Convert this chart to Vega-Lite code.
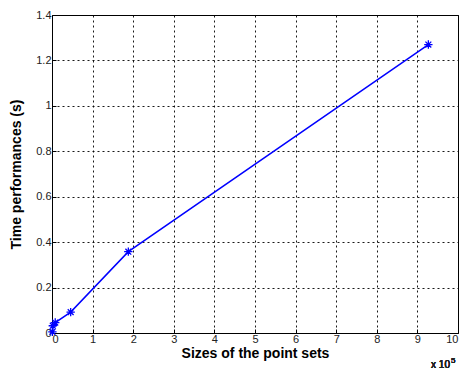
{
  "$schema": "https://vega.github.io/schema/vega-lite/v6.json",
  "width": 406,
  "height": 318,
  "autosize": {"type": "none"},
  "padding": {"left": 52, "top": 15, "right": 2, "bottom": 43},
  "background": "white",
  "config": {
    "view": {"stroke": "#000", "strokeWidth": 1},
    "axis": {
      "labelFont": "Liberation Sans",
      "labelFontSize": 11,
      "labelColor": "#222",
      "titleFont": "Liberation Sans",
      "titleFontSize": 14,
      "titleFontWeight": "bold",
      "titleColor": "#000",
      "domain": false,
      "tickColor": "#000",
      "tickSize": -4,
      "gridColor": "#000",
      "gridDash": [2, 3],
      "gridOpacity": 0.9
    }
  },
  "data": {
    "values": [
      {"size": 0.01, "time": 0.005},
      {"size": 0.02, "time": 0.032},
      {"size": 0.08, "time": 0.046},
      {"size": 0.46, "time": 0.092},
      {"size": 1.88, "time": 0.358},
      {"size": 9.27, "time": 1.27}
    ]
  },
  "layer": [
    {
      "mark": {"type": "line", "color": "#0000ff", "strokeWidth": 1.5},
      "encoding": {
        "x": {
          "field": "size", "type": "quantitative",
          "scale": {"domain": [0, 10], "nice": false},
          "axis": {"values": [0,1,2,3,4,5,6,7,8,9,10], "format": "d", "title": "Sizes of the point sets", "titlePadding": 2, "labelPadding": 4}
        },
        "y": {
          "field": "time", "type": "quantitative",
          "scale": {"domain": [0, 1.4], "nice": false},
          "axis": {"values": [0,0.2,0.4,0.6,0.8,1,1.2,1.4], "format": "~g", "title": "Time performances (s)", "titlePadding": 12, "labelPadding": 5}
        }
      }
    },
    {
      "mark": {"type": "point", "shape": "M-1,0L1,0M0,-1L0,1M-0.7,-0.7L0.7,0.7M-0.7,0.7L0.7,-0.7", "filled": false, "color": "#0000ff", "strokeWidth": 1.3, "size": 70, "opacity": 1},
      "encoding": {
        "x": {"field": "size", "type": "quantitative"},
        "y": {"field": "time", "type": "quantitative"}
      }
    },
    {
      "mark": {"type": "text", "text": "x 10", "font": "Liberation Sans", "fontSize": 10, "fontWeight": "normal", "color": "#222", "align": "right", "baseline": "alphabetic", "dy": 35, "dx": -8},
      "encoding": {
        "x": {"datum": 10},
        "y": {"datum": 0}
      }
    },
    {
      "mark": {"type": "text", "text": "5", "font": "Liberation Sans", "fontSize": 8, "fontWeight": "normal", "color": "#222", "align": "left", "baseline": "alphabetic", "dy": 30, "dx": -7},
      "encoding": {
        "x": {"datum": 10},
        "y": {"datum": 0}
      }
    }
  ]
}
